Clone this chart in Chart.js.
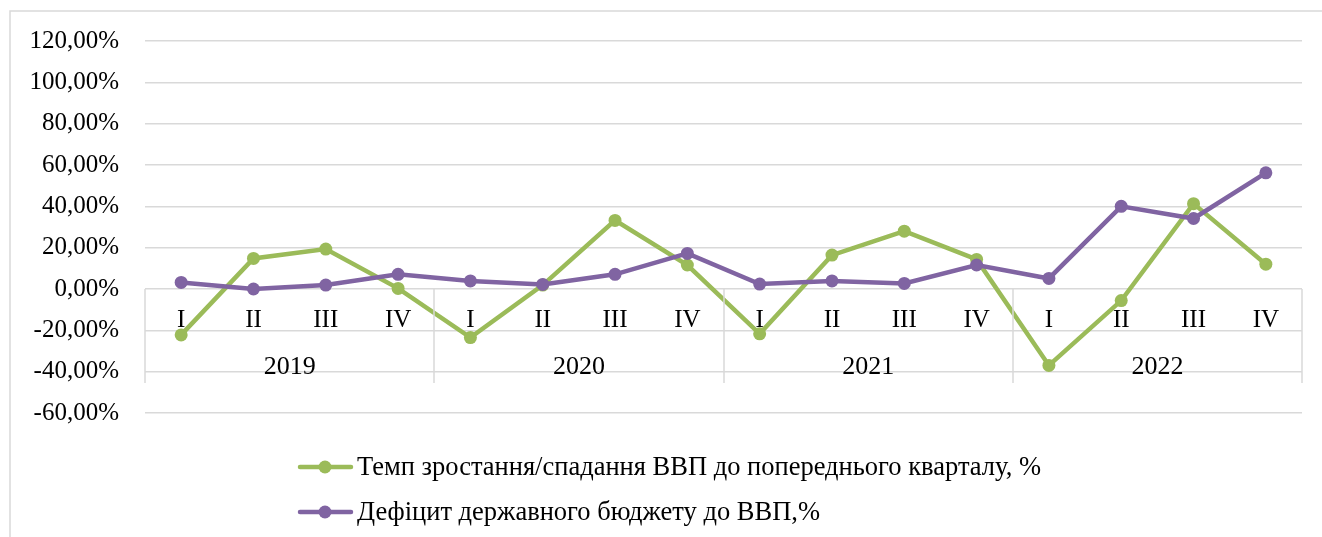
<!DOCTYPE html>
<html lang="uk">
<head>
<meta charset="utf-8">
<title>ВВП та дефіцит бюджету</title>
<script src="https://cdn.jsdelivr.net/npm/chart.js@4"></script>
<style>
  html, body { margin: 0; padding: 0; background: #fff; }
  #wrap { width: 1322px; height: 537px; }
</style>
</head>
<body>
<div id="wrap"><canvas id="gdpChart" width="1322" height="537"></canvas></div>
<script>
// Дані (у відсотках)
const quarters = ["I", "II", "III", "IV"];
const years = ["2019", "2020", "2021", "2022"];
const categories = years.flatMap((y) => quarters.map((q) => q + " " + y));

const gdpGrowth = [-22.2, 14.8, 19.3, 0.3, -23.5, 1.9, 33.2, 11.6, -21.7, 16.4, 28.0, 14.3, -37.0, -5.6, 41.3, 12.0];
const budgetDeficit = [3.2, 0.0, 1.9, 7.1, 3.9, 2.2, 7.1, 17.2, 2.4, 3.9, 2.7, 11.6, 5.1, 40.0, 34.1, 56.2];

const seriesNames = [
  "Темп зростання/спадання ВВП до попереднього кварталу, %",
  "Дефіцит державного бюджету до ВВП,%",
];

const yMin = -60;
const yMax = 120;
const yStep = 20;

const GREEN = "#9BBB59";
const PURPLE = "#8064A2";
const GRID = "#d9d9d9";
const FONT = "Liberation Serif";

// Рамка, підписи категорій і легенда
const excelLook = {
  id: "excelLook",
  beforeDraw(chart) {
    const ctx = chart.ctx;
    ctx.save();
    ctx.strokeStyle = GRID;
    ctx.lineWidth = 1.5;
    ctx.beginPath();
    ctx.moveTo(10, chart.height);
    ctx.lineTo(10, 11);
    ctx.lineTo(chart.width, 11);
    ctx.stroke();
    ctx.restore();
  },
  afterDatasetsDraw(chart) {
    const ctx = chart.ctx;
    const x = chart.scales.x;
    const y = chart.scales.y;
    const y0 = y.getPixelForValue(0);
    const band = (chart.chartArea.right - chart.chartArea.left) / categories.length;

    ctx.save();
    // вертикальні роздільники років
    ctx.strokeStyle = GRID;
    ctx.lineWidth = 1.5;
    for (let i = 0; i <= categories.length; i += quarters.length) {
      const px = Math.round(chart.chartArea.left + i * band);
      ctx.beginPath();
      ctx.moveTo(px, y0);
      ctx.lineTo(px, y0 + 94);
      ctx.stroke();
    }

    ctx.fillStyle = "#000";
    ctx.font = "25px '" + FONT + "'";
    ctx.textAlign = "center";
    ctx.textBaseline = "middle";
    categories.forEach((c, i) => {
      ctx.fillText(quarters[i % quarters.length], x.getPixelForValue(i), y0 + 31);
    });
    ctx.font = "26px '" + FONT + "'";
    years.forEach((yr, k) => {
      const cx = chart.chartArea.left + (k * quarters.length + quarters.length / 2) * band;
      ctx.fillText(yr, cx, y0 + 78);
    });

    // легенда
    const colors = [GREEN, PURPLE];
    const rows = [467, 512];
    ctx.textAlign = "left";
    ctx.font = "26.5px '" + FONT + "'";
    seriesNames.forEach((name, i) => {
      ctx.strokeStyle = colors[i];
      ctx.fillStyle = colors[i];
      ctx.lineWidth = 4.5;
      ctx.lineCap = "round";
      ctx.beginPath();
      ctx.moveTo(300, rows[i]);
      ctx.lineTo(351, rows[i]);
      ctx.stroke();
      ctx.beginPath();
      ctx.arc(325, rows[i], 6.5, 0, Math.PI * 2);
      ctx.fill();
      ctx.fillStyle = "#000";
      ctx.fillText(name, 357, rows[i] + 1);
    });
    ctx.restore();
  },
};

new Chart(document.getElementById("gdpChart").getContext("2d"), {
  type: "line",
  data: {
    labels: categories,
    datasets: [
      {
        label: seriesNames[0],
        data: gdpGrowth,
        borderColor: GREEN,
        backgroundColor: GREEN,
        borderWidth: 4.5,
        pointRadius: 6.5,
        pointBorderWidth: 0,
        pointHoverRadius: 6.5,
        tension: 0,
        order: 2,
      },
      {
        label: seriesNames[1],
        data: budgetDeficit,
        borderColor: PURPLE,
        backgroundColor: PURPLE,
        borderWidth: 4.5,
        pointRadius: 6.5,
        pointBorderWidth: 0,
        pointHoverRadius: 6.5,
        tension: 0,
        order: 1,
      },
    ],
  },
  options: {
    responsive: false,
    animation: false,
    layout: {
      padding: { left: 0, right: 20, top: 40, bottom: 124 },
    },
    plugins: {
      legend: { display: false },
      tooltip: { enabled: false },
    },
    scales: {
      x: {
        type: "category",
        offset: true,
        display: false,
      },
      y: {
        min: yMin,
        max: yMax,
        afterFit(scale) {
          scale.width = 145;
        },
        ticks: {
          stepSize: yStep,
          padding: 26,
          color: "#000",
          font: { family: FONT, size: 25 },
          callback: (v) => v.toFixed(2).replace(".", ",") + "%",
        },
        grid: {
          color: GRID,
          lineWidth: 1.5,
          drawTicks: false,
        },
        border: { display: false },
      },
    },
  },
  plugins: [excelLook],
});
</script>
</body>
</html>
